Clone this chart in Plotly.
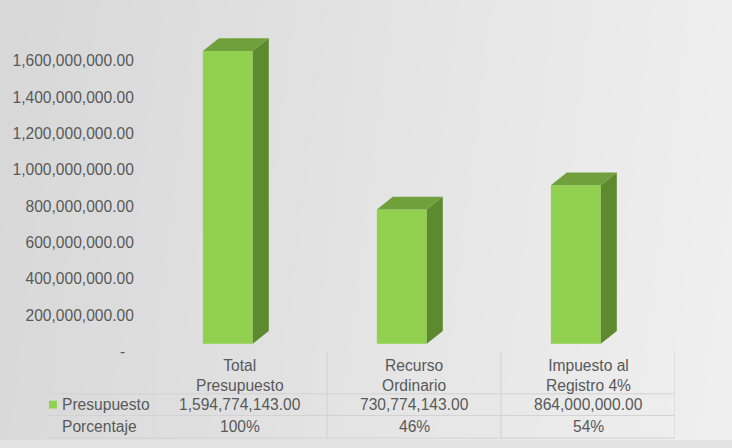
import base64
import struct
import zlib

import numpy as np
import plotly.graph_objects as go

categories = ["Total<br>Presupuesto", "Recurso<br>Ordinario", "Impuesto al<br>Registro 4%"]
presupuesto = [1594774143.00, 730774143.00, 864000000.00]
tick_vals = [0, 200e6, 400e6, 600e6, 800e6, 1000e6, 1200e6, 1400e6, 1600e6]
tick_text = ["-\u00a0\u00a0", "200,000,000.00", "400,000,000.00", "600,000,000.00",
             "800,000,000.00", "1,000,000,000.00", "1,200,000,000.00",
             "1,400,000,000.00", "1,600,000,000.00"]
row_names = ["Presupuesto", "Porcentaje"]

W, H = 732, 448
L, R = 153, 675          # plot area, pixels
TOP, BOT = 20, 358
FONT = "Liberation Sans, Arial, sans-serif"
FSIZE = 15.6
GREY = "#595959"
FRONT, TOPC, SIDE = "#92d050", "#70a03c", "#5d8a2f"

BAR_W = 0.287            # front face width (category units)
DX = 0.092               # depth offset, category units
DY = 69.6e6              # depth offset, value units


def px_x(p):
    return (p - L) / (R - L)


def px_y(p):
    return (H - p) / H


def gradient_png():
    # light grey slide background, darker on the left
    xs = np.linspace(0, 1, W)[None, :]
    ys = np.linspace(0, 1, H)[:, None]
    g = 216 + 24 * (0.93 * xs + 0.07 * ys)
    arr = np.clip(g, 0, 255).astype(np.uint8)
    raw = b"".join(b"\x00" + row.tobytes() for row in arr)

    def chunk(tag, data):
        return (struct.pack(">I", len(data)) + tag + data
                + struct.pack(">I", zlib.crc32(tag + data) & 0xffffffff))

    ihdr = struct.pack(">IIBBBBB", W, H, 8, 0, 0, 0, 0)
    png = (b"\x89PNG\r\n\x1a\n" + chunk(b"IHDR", ihdr)
           + chunk(b"IDAT", zlib.compress(raw, 9)) + chunk(b"IEND", b""))
    return "data:image/png;base64," + base64.b64encode(png).decode()


xpos = list(range(len(categories)))
percent = [f"{round(v / presupuesto[0] * 100)}%" for v in presupuesto]

fig = go.Figure()
fig.add_trace(go.Bar(
    x=xpos, y=presupuesto, width=BAR_W, marker=dict(color=FRONT, line=dict(width=0)),
    hoverinfo="skip", showlegend=False
))

# 3D faces derived from the data
top_x, top_y, side_x, side_y = [], [], [], []
for c, v in zip(xpos, presupuesto):
    a, b = c - BAR_W / 2, c + BAR_W / 2
    top_x += [a, a + DX, b + DX, b, a, None]
    top_y += [v, v + DY, v + DY, v, v, None]
    side_x += [b, b + DX, b + DX, b, b, None]
    side_y += [0, DY, v + DY, v, 0, None]

fig.add_trace(go.Scatter(x=top_x, y=top_y, fill="toself", fillcolor=TOPC, mode="lines",
                         line=dict(width=0, color=TOPC), hoverinfo="skip", showlegend=False))
fig.add_trace(go.Scatter(x=side_x, y=side_y, fill="toself", fillcolor=SIDE, mode="lines",
                         line=dict(width=0, color=SIDE), hoverinfo="skip", showlegend=False))
# carrier for the label axis
fig.add_trace(go.Scatter(x=xpos, y=presupuesto, yaxis="y2", mode="markers",
                         marker=dict(opacity=0), hoverinfo="skip", showlegend=False))

annotations = []
shapes = []
col_off = 0.07
for c, cat, v, p in zip(xpos, categories, presupuesto, percent):
    annotations.append(dict(x=c + col_off, y=px_y(382), xref="x", yref="paper", text=cat,
                            showarrow=False, xanchor="center", yanchor="middle"))
    annotations.append(dict(x=c + col_off, y=px_y(412), xref="x", yref="paper",
                            text=f"{v:,.2f}", showarrow=False, xanchor="center",
                            yanchor="middle"))
    annotations.append(dict(x=c + col_off, y=px_y(434), xref="x", yref="paper", text=p,
                            showarrow=False, xanchor="center", yanchor="middle"))

for name, yy in zip(row_names, [412, 434]):
    annotations.append(dict(x=px_x(60), y=px_y(yy), xref="paper", yref="paper", text=name,
                            showarrow=False, xanchor="left", yanchor="middle"))

# legend key
shapes.append(dict(type="rect", xref="paper", yref="paper", x0=px_x(49), x1=px_x(57),
                   y0=px_y(408), y1=px_y(416), fillcolor=FRONT, line=dict(width=0)))

# data table grid
bounds = [xpos[0] - 0.43] + [c + 0.57 for c in xpos]
for bx in bounds:
    shapes.append(dict(type="line", xref="x", yref="paper", x0=bx, x1=bx,
                       y0=px_y(358), y1=px_y(446), line=dict(color="#d2d2d2", width=1)))
for yy in [401, 423, 446]:
    shapes.append(dict(type="line", xref="paper", yref="paper", x0=px_x(47), x1=1,
                       y0=px_y(yy), y1=px_y(yy), line=dict(color="#d2d2d2", width=1)))

fig.update_layout(
    width=W, height=H,
    margin=dict(l=L, r=W - R, t=0, b=0),
    paper_bgcolor="#e3e3e3", plot_bgcolor="rgba(0,0,0,0)",
    font=dict(family=FONT, size=FSIZE, color=GREY),
    xaxis=dict(range=[-0.43, 2.57], visible=False, fixedrange=True),
    yaxis=dict(range=[-43e6, 1766e6], domain=[px_y(BOT), px_y(TOP)], visible=False),
    yaxis2=dict(range=[0, 1827e6], overlaying="y", side="left", anchor="x",
                tickvals=tick_vals, ticktext=tick_text, ticks="outside", ticklen=15,
                tickcolor="rgba(0,0,0,0)", showgrid=False, zeroline=False,
                showline=False, tickfont=dict(family=FONT, size=FSIZE, color=GREY)),
    images=[dict(source=gradient_png(), xref="paper", yref="paper", x=px_x(0), y=1,
                 sizex=W / (R - L), sizey=1, xanchor="left", yanchor="top",
                 sizing="stretch", layer="below")],
    annotations=annotations, shapes=shapes,
    showlegend=False,
)

fig.write_html("out.html", config={"displayModeBar": False},
               post_script="document.body.style.margin='0';")
